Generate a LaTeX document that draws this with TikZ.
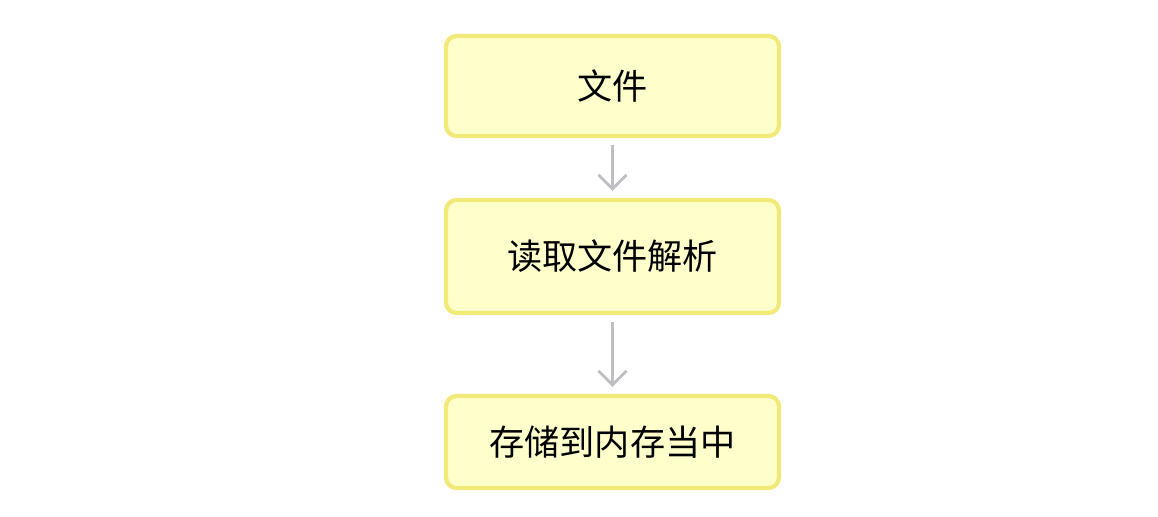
\documentclass[tikz,border=0pt]{standalone}
\usepackage{fontspec}
\newfontfamily\cjk{Noto Sans CJK SC}
\usetikzlibrary{arrows.meta}
\definecolor{boxfill}{RGB}{255,255,204}
\definecolor{boxline}{RGB}{242,234,120}
\definecolor{flowgray}{RGB}{190,190,195}
\begin{document}
\begin{tikzpicture}[
    stepbox/.style={draw=boxline, fill=boxfill, line width=1.2pt, rounded corners=3pt,
      minimum width=3.33cm, font=\cjk\fontsize{10}{12}\selectfont},
    flow/.style={draw=flowgray, line width=0.8pt, -{Straight Barb[length=4pt,width=8pt]},
      shorten <=0.07cm, shorten >=0.07cm}]
    %% Background
    \useasboundingbox (0,0) rectangle (11.58,5.16);
    %% Boxes
    \node[stepbox, minimum height=1.0cm] (file) at (6.125,4.30) {文件};
    \node[stepbox, minimum height=1.13cm] (parse) at (6.125,2.595) {读取文件解析};
    \node[stepbox, minimum height=0.92cm] (store) at (6.125,0.74) {存储到内存当中};
    %% Arrows
    \draw[flow] (file) -- (parse);
    \draw[flow] (parse) -- (store);
\end{tikzpicture}
\end{document}
